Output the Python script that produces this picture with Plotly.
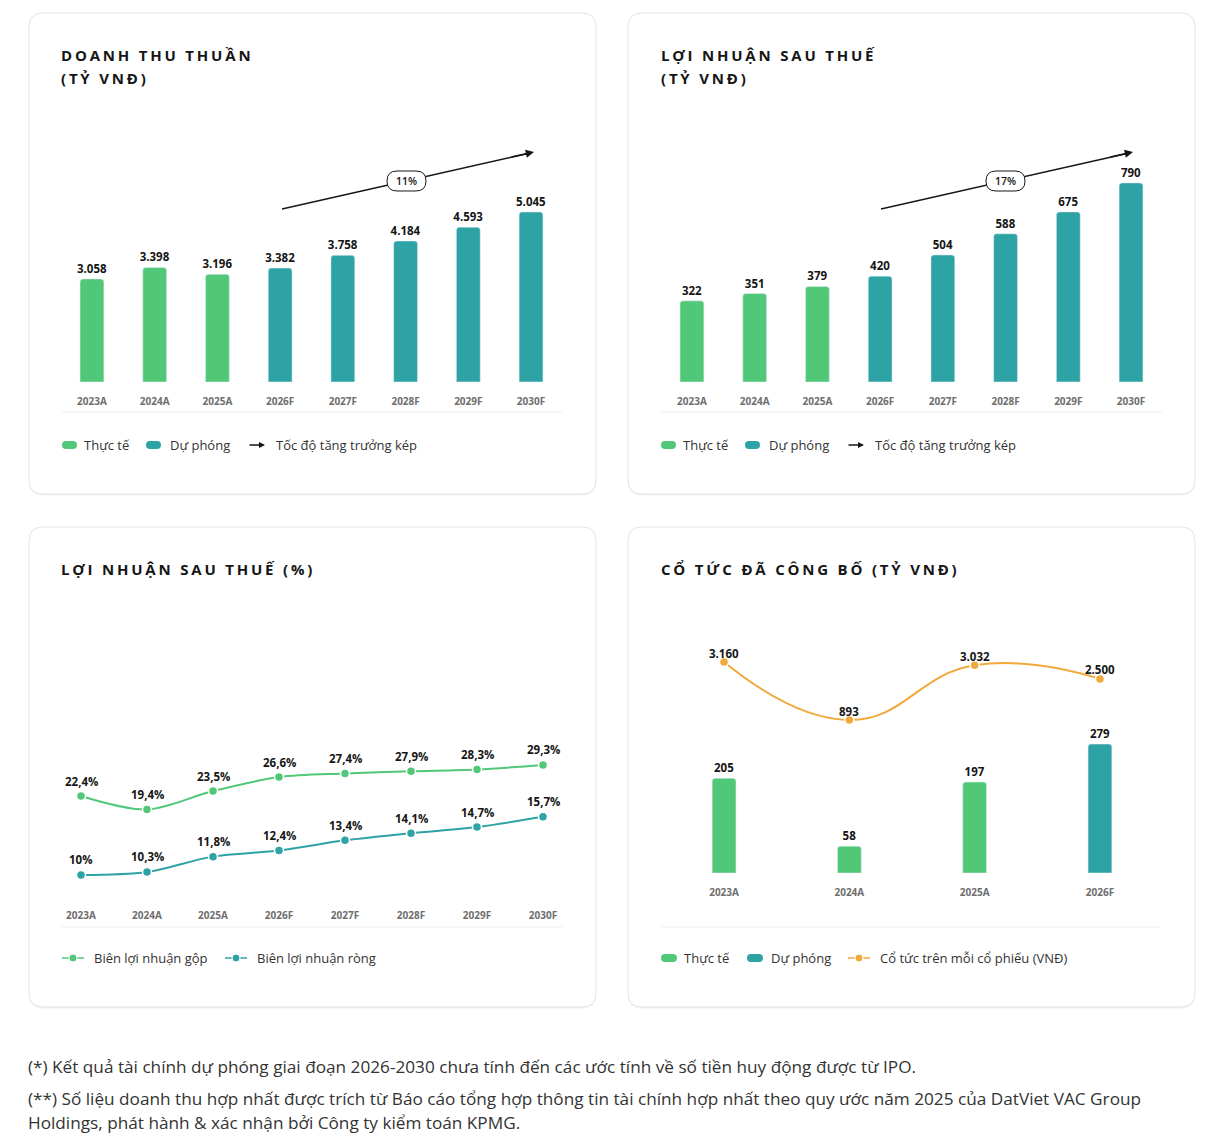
import plotly.graph_objects as go

W, H = 1209, 1143

GREEN = "#50c878"
TEAL = "#2ea3a5"
ORANGE = "#f2a93b"
INK = "#161616"
TICK = "#6e6e6e"
TEXT = "#333333"
FONT = "Open Sans"

# doanh thu thuần / lợi nhuận sau thuế (tỷ VNĐ)
years = ["2023A", "2024A", "2025A", "2026F", "2027F", "2028F", "2029F", "2030F"]
revenue = [3058, 3398, 3196, 3382, 3758, 4184, 4593, 5045]
profit = [322, 351, 379, 420, 504, 588, 675, 790]
revenue_cagr = "11%"
profit_cagr = "17%"

# biên lợi nhuận (%)
gross_margin = [22.4, 19.4, 23.5, 26.6, 27.4, 27.9, 28.3, 29.3]
net_margin = [10, 10.3, 11.8, 12.4, 13.4, 14.1, 14.7, 15.7]

# cổ tức đã công bố
div_years = ["2023A", "2024A", "2025A", "2026F"]
dividend = [205, 58, 197, 279]
dps = [3160, 893, 3032, 2500]


def px(x):
    return x / W


def py(y):
    return 1 - y / H


def pt(x, y):
    return f"{px(x):.5f},{py(y):.5f}"


def rounded_rect(x0, y0, x1, y1, r):
    return (
        f"M {pt(x0 + r, y0)} L {pt(x1 - r, y0)} Q {pt(x1, y0)} {pt(x1, y0 + r)} "
        f"L {pt(x1, y1 - r)} Q {pt(x1, y1)} {pt(x1 - r, y1)} "
        f"L {pt(x0 + r, y1)} Q {pt(x0, y1)} {pt(x0, y1 - r)} "
        f"L {pt(x0, y0 + r)} Q {pt(x0, y0)} {pt(x0 + r, y0)} Z"
    )


def bar_colors(cats):
    return [GREEN if c.endswith("A") else TEAL for c in cats]


def thousands(v):
    return f"{v:,}".replace(",", ".")


def pct(v):
    return f"{v:g}".replace(".", ",") + "%"


shapes = []
annotations = []


def text(x, y, s, size=13, color=TEXT, weight=400, anchor="left"):
    annotations.append(dict(
        x=px(x), y=py(y), xref="paper", yref="paper", text=s, showarrow=False,
        xanchor=anchor, yanchor="middle", borderpad=0,
        font=dict(family=FONT, size=size, color=color, weight=weight),
    ))


def title(x, y, s):
    text(x, y, f'<span style="letter-spacing:2.8px">{s}</span>', size=15, color=INK, weight=700)


def line(x0, y0, x1, y1, color, width=1):
    shapes.append(dict(type="line", xref="paper", yref="paper",
                       x0=px(x0), y0=py(y0), x1=px(x1), y1=py(y1),
                       line=dict(color=color, width=width)))


def pill(x0, x1, y, color, h=8):
    shapes.append(dict(type="path", xref="paper", yref="paper",
                       path=rounded_rect(x0, y - h / 2, x1, y + h / 2, h / 2),
                       fillcolor=color, line=dict(width=0)))


def dot(x, y, color, r=4):
    shapes.append(dict(type="circle", xref="paper", yref="paper",
                       x0=px(x - r), y0=py(y - r), x1=px(x + r), y1=py(y + r),
                       fillcolor=color, line=dict(color="white", width=1)))


def arrow(x0, y0, x1, y1, size=1.0):
    annotations.append(dict(
        x=px(x1), y=py(y1), xref="paper", yref="paper", text="",
        ax=x0 - x1, ay=y0 - y1, showarrow=True, arrowhead=2,
        arrowsize=size, arrowwidth=1.5, arrowcolor=INK,
    ))


# cards
for cx0, cy0, cx1, cy1 in [(29, 13, 596, 494), (628, 13, 1195, 494),
                           (29, 527, 596, 1007), (628, 527, 1195, 1007)]:
    shapes.append(dict(type="path", xref="paper", yref="paper", layer="below",
                       path=rounded_rect(cx0, cy0 + 1.5, cx1, cy1 + 1.5, 14),
                       fillcolor="#f4f4f4", line=dict(width=0)))
    shapes.append(dict(type="path", xref="paper", yref="paper", layer="below",
                       path=rounded_rect(cx0, cy0, cx1, cy1, 14),
                       fillcolor="white", line=dict(color="#e3e3e3", width=1)))

# titles
title(60, 55, "DOANH THU THUẦN")
title(60, 78, "(TỶ VNĐ)")
title(660, 55, "LỢI NHUẬN SAU THUẾ")
title(660, 78, "(TỶ VNĐ)")
title(60, 569, "LỢI NHUẬN SAU THUẾ (%)")
title(660, 569, "CỔ TỨC ĐÃ CÔNG BỐ (TỶ VNĐ)")

# separators under the charts
line(62, 412, 562, 412, "#eeeeee")
line(661, 412, 1162, 412, "#eeeeee")
line(62, 927, 562, 927, "#eeeeee")
line(662, 927, 1160, 927, "#eeeeee")

# growth arrows with CAGR pill
for dx, label in [(0, revenue_cagr), (599, profit_cagr)]:
    line(282 + dx, 209, 528 + dx, 153.4, INK, 1.5)
    arrow(510 + dx, 157.4, 534 + dx, 152, 1.1)
    shapes.append(dict(type="path", xref="paper", yref="paper",
                       path=rounded_rect(387 + dx, 171, 426 + dx, 191, 10),
                       fillcolor="white", line=dict(color=INK, width=1)))
    text(406.5 + dx, 181, label, size=10.5, color=INK, weight=600, anchor="center")

# legends
for dx in [0, 599]:
    pill(62 + dx, 77 + dx, 445, GREEN)
    text(83 + dx, 445, "Thực tế")
    pill(146 + dx, 161 + dx, 445, TEAL)
    text(169 + dx, 445, "Dự phóng")
    arrow(248 + dx, 445, 265 + dx, 445, 0.8)
    text(275 + dx, 445, "Tốc độ tăng trưởng kép")

for x0, color, label in [(62, GREEN, "Biên lợi nhuận gộp"), (225, TEAL, "Biên lợi nhuận ròng")]:
    line(x0, 958, x0 + 7, 958, color, 1.5)
    line(x0 + 15, 958, x0 + 22, 958, color, 1.5)
    dot(x0 + 11, 958, color)
    text(x0 + 31, 958, label)

pill(661, 677, 958, GREEN)
text(683, 958, "Thực tế")
pill(747, 763, 958, TEAL)
text(770, 958, "Dự phóng")
line(848, 958, 855, 958, ORANGE, 1.5)
line(863, 958, 870, 958, ORANGE, 1.5)
dot(859, 958, ORANGE)
text(879, 958, "Cổ tức trên mỗi cổ phiếu (VNĐ)")

# footnotes
text(27, 1066, "(*) Kết quả tài chính dự phóng giai đoạn 2026-2030 chưa tính đến các ước tính về số tiền huy động được từ IPO.", size=17.2)
text(27, 1098, "(**) Số liệu doanh thu hợp nhất được trích từ Báo cáo tổng hợp thông tin tài chính hợp nhất theo quy ước năm 2025 của DatViet VAC Group", size=17.2)
text(27, 1122, "Holdings, phát hành & xác nhận bởi Công ty kiểm toán KPMG.", size=17.2)

bar_text = dict(family=FONT, size=11.5, color=INK, weight=700)

fig = go.Figure()
fig.add_trace(go.Bar(x=years, y=revenue, marker_color=bar_colors(years), width=0.38,
                     texttemplate="%{y:,}", textposition="outside", textfont=bar_text,
                     constraintext="none", cliponaxis=False, xaxis="x", yaxis="y"))
fig.add_trace(go.Bar(x=years, y=profit, marker_color=bar_colors(years), width=0.38,
                     texttemplate="%{y:,}", textposition="outside", textfont=bar_text,
                     constraintext="none", cliponaxis=False, xaxis="x2", yaxis="y2"))

for vals, color, ya in [(gross_margin, GREEN, "y3"), (net_margin, TEAL, "y4")]:
    fig.add_trace(go.Scatter(x=years, y=vals, mode="lines+markers", xaxis="x3", yaxis=ya,
                             line=dict(color=color, width=2, shape="spline", smoothing=0.9),
                             marker=dict(size=9, color=color, line=dict(color="white", width=1.5)),
                             cliponaxis=False))
    for c, v in zip(years, vals):
        annotations.append(dict(x=c, y=v, xref="x3", yref=ya, text=pct(v), showarrow=False,
                                yshift=15, font=bar_text))

fig.add_trace(go.Bar(x=div_years, y=dividend, marker_color=bar_colors(div_years), width=0.19,
                     texttemplate="%{y:,}", textposition="outside", textfont=bar_text,
                     constraintext="none", cliponaxis=False, xaxis="x4", yaxis="y5"))
fig.add_trace(go.Scatter(x=div_years, y=dps, mode="lines+markers", xaxis="x4", yaxis="y6",
                         line=dict(color=ORANGE, width=2, shape="spline", smoothing=1.3),
                         marker=dict(size=9, color=ORANGE, line=dict(color="white", width=1.5)),
                         cliponaxis=False))
for c, v in zip(div_years, dps):
    annotations.append(dict(x=c, y=v, xref="x4", yref="y6", text=thousands(v), showarrow=False,
                            yshift=9, font=bar_text))

xstyle = dict(type="category", showgrid=False, zeroline=False, showline=False, ticks="",
              tickfont=dict(family=FONT, size=10, color=TICK, weight=700), ticklabelstandoff=12,
              fixedrange=True)
ystyle = dict(visible=False, showgrid=False, zeroline=False, fixedrange=True)

fig.update_layout(
    width=W, height=H, margin=dict(l=0, r=0, t=0, b=0),
    paper_bgcolor="white", plot_bgcolor="rgba(0,0,0,0)",
    showlegend=False, separators=",.", barcornerradius=3,
    font=dict(family=FONT, color=TEXT),
    xaxis=dict(xstyle, domain=[px(60.6), px(562.4)], range=[-0.5, 7.5], anchor="y"),
    yaxis=dict(ystyle, domain=[py(382), py(130)], range=[0, 7478], anchor="x"),
    xaxis2=dict(xstyle, domain=[px(660.6), px(1162.4)], range=[-0.5, 7.5], anchor="y2"),
    yaxis2=dict(ystyle, domain=[py(382), py(130)], range=[0, 1000], anchor="x2"),
    xaxis3=dict(xstyle, domain=[px(48), px(576)], range=[-0.5, 7.5], anchor="y3"),
    yaxis3=dict(ystyle, domain=[py(896), py(600)], range=[0.18, 65.96], anchor="x3"),
    yaxis4=dict(ystyle, range=[7.94, 36.96], overlaying="y3", anchor="x3"),
    xaxis4=dict(xstyle, domain=[px(661.4), px(1162.6)], range=[-0.5, 3.5], anchor="y5"),
    yaxis5=dict(ystyle, domain=[py(873), py(600)], range=[0, 591], anchor="x4"),
    yaxis6=dict(ystyle, range=[-5082, 5582], overlaying="y5", anchor="x4"),
    shapes=shapes,
    annotations=annotations,
    hovermode=False,
)

fig.write_html("out.html", config={"displayModeBar": False},
               post_script="document.body.style.margin='0';")
